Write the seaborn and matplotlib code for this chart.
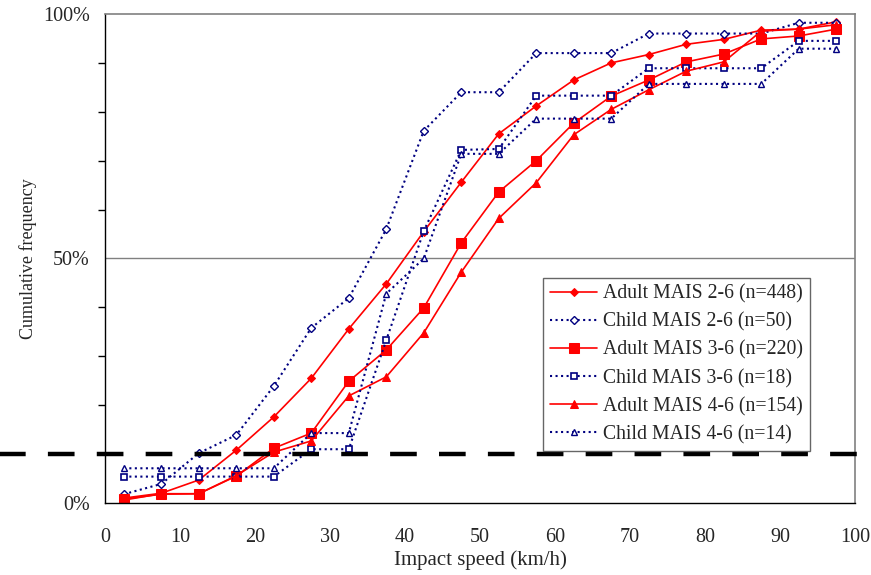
import numpy as np
import pandas as pd
import matplotlib
matplotlib.use('Agg')
import matplotlib.pyplot as plt
from matplotlib.ticker import MultipleLocator, FuncFormatter
import seaborn as sns

sns.set_style('white')
plt.rcParams['font.family'] = ['Liberation Serif', 'DejaVu Serif']

# impact speed class midpoints (km/h)
speed = [2.5, 7.5, 12.5, 17.5, 22.5, 27.5, 32.5, 37.5, 42.5, 47.5,
         52.5, 57.5, 62.5, 67.5, 72.5, 77.5, 82.5, 87.5, 92.5, 97.5]

# cumulative frequency (%)
adult_2_6 = [1.0, 2.0, 4.7, 10.8, 17.6, 25.5, 35.6, 44.8, 55.5, 65.6,
             75.5, 81.2, 86.5, 90.0, 91.7, 93.8, 94.8, 96.7, 96.9, 98.4]
child_2_6 = [1.8, 3.9, 10.2, 13.9, 23.9, 35.8, 41.9, 56.0, 76.1, 84.0,
             84.0, 92.0, 92.0, 92.0, 96.0, 96.0, 96.0, 96.0, 98.2, 98.2]
adult_3_6 = [0.8, 1.8, 1.9, 5.5, 11.2, 14.3, 24.9, 31.3, 39.9, 53.2,
             63.6, 70.0, 77.7, 83.2, 86.5, 90.2, 91.8, 94.9, 95.5, 96.9]
child_3_6 = [5.4, 5.4, 5.4, 5.4, 5.4, 11.0, 11.0, 33.3, 55.6, 72.2,
             72.4, 83.3, 83.3, 83.3, 88.9, 88.9, 88.9, 88.9, 94.5, 94.5]
adult_4_6 = [0.6, 1.9, 1.9, 5.6, 10.4, 12.7, 21.9, 25.8, 34.8, 47.2,
             58.2, 65.5, 75.3, 80.5, 84.5, 88.3, 90.2, 96.5, 96.9, 97.8]
child_4_6 = [7.1, 7.1, 7.1, 7.1, 7.1, 14.3, 14.3, 42.8, 50.0, 71.4,
             71.4, 78.6, 78.6, 78.6, 85.7, 85.7, 85.7, 85.7, 92.9, 92.9]

labels = ['Adult MAIS 2-6 (n=448)', 'Child MAIS 2-6 (n=50)',
          'Adult MAIS 3-6 (n=220)', 'Child MAIS 3-6 (n=18)',
          'Adult MAIS 4-6 (n=154)', 'Child MAIS 4-6 (n=14)']
values = [adult_2_6, child_2_6, adult_3_6, child_3_6, adult_4_6, child_4_6]
threshold = 10

red = '#ff0000'
navy = '#000080'
styles = [
    dict(color=red, linestyle='-', linewidth=1.2, marker='D', markersize=4.5,
         markerfacecolor=red, markeredgecolor=red),
    dict(color=navy, linestyle=':', linewidth=1.5, marker='D', markersize=4,
         markerfacecolor='white', markeredgecolor=navy, markeredgewidth=1),
    dict(color=red, linestyle='-', linewidth=1.2, marker='s', markersize=6.5,
         markerfacecolor=red, markeredgecolor=red),
    dict(color=navy, linestyle=':', linewidth=1.5, marker='s', markersize=5,
         markerfacecolor='white', markeredgecolor=navy, markeredgewidth=1.2),
    dict(color=red, linestyle='-', linewidth=1.2, marker='^', markersize=6,
         markerfacecolor=red, markeredgecolor=red),
    dict(color=navy, linestyle=':', linewidth=1.5, marker='^', markersize=5,
         markerfacecolor='white', markeredgecolor=navy, markeredgewidth=1),
]

fig = plt.figure(figsize=(8.71, 5.75), dpi=100)
ax = fig.add_axes([0.1206, 0.1252, 0.861, 0.8505])

for lab, vals, st in zip(labels, values, styles):
    df = pd.DataFrame({'speed': speed, 'freq': vals})
    sns.lineplot(data=df, x='speed', y='freq', ax=ax, label=lab, **st)

ax.axhline(threshold, xmin=-0.2, xmax=1.2, color='black', linewidth=3.2,
           dashes=(6, 5), clip_on=False, zorder=5)
ax.axhline(50, color='#808080', linewidth=1, zorder=0)

ax.set_xlim(0, 100)
ax.set_ylim(0, 100)
ax.xaxis.set_major_locator(MultipleLocator(10))
ax.yaxis.set_major_locator(MultipleLocator(50))
ax.yaxis.set_minor_locator(MultipleLocator(10))
ax.yaxis.set_major_formatter(FuncFormatter(lambda v, p: f'{int(v)}%'))
ax.tick_params(axis='x', direction='out', length=6, width=1, labelsize=14.5, pad=12, color='black')
ax.tick_params(axis='y', which='both', direction='out', length=5, width=1, labelsize=14.5, pad=6, color='black')
ax.tick_params(axis='y', which='minor', left=True)

for s in ['left', 'bottom']:
    ax.spines[s].set_color('black')
    ax.spines[s].set_linewidth(1)
for s in ['top', 'right']:
    ax.spines[s].set_color('#808080')
    ax.spines[s].set_linewidth(1.2)

ax.set_xlabel('Impact speed (km/h)', fontsize=15, labelpad=2)
ax.set_ylabel('Cumulative frequency', fontsize=13, labelpad=4)

leg = ax.legend(loc='upper left', bbox_to_anchor=(0.584, 0.461), fontsize=14.2,
                frameon=True, fancybox=False, edgecolor='#404040',
                handlelength=2.4, handletextpad=0.3, labelspacing=0.45,
                borderpad=0.35, borderaxespad=0)
leg.get_frame().set_linewidth(1)

fig.savefig('out.png', dpi=100)
